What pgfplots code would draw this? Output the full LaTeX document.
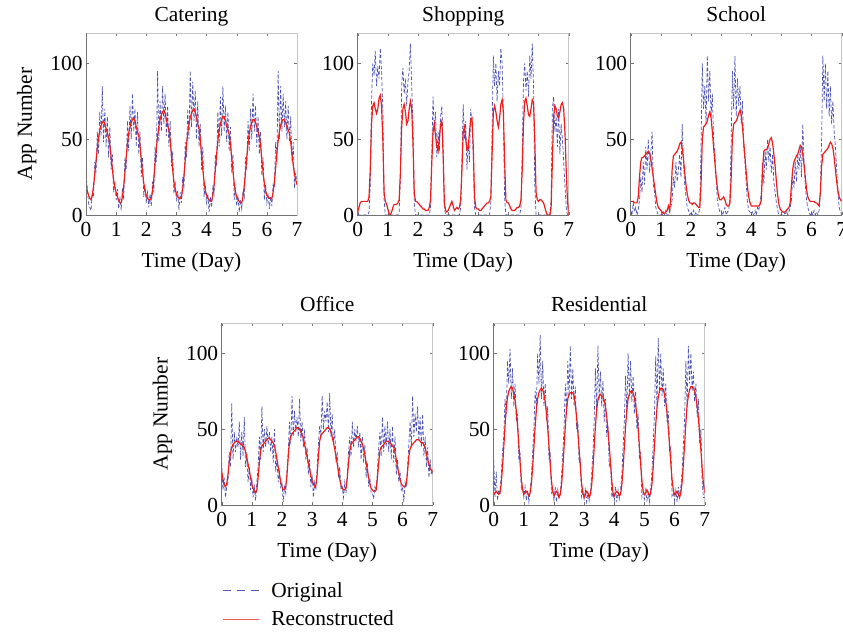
\documentclass[border=0pt]{standalone}
\usepackage{fontspec}
\setmainfont{Liberation Serif}
\usepackage{pgfplots}
\usepackage{pgfplotstable}
\pgfplotsset{compat=1.18}
\definecolor{origblue}{RGB}{55,62,172}
\definecolor{recred}{RGB}{240,28,28}
\definecolor{legred}{RGB}{240,90,80}

% ---------------- Catering ----------------
\pgfplotstableread[header=false,row sep=\\]{
27\\18\\8\\5\\3\\15\\12\\35\\28\\55\\40\\68\\52\\85\\48\\70\\45\\65\\38\\58\\30\\40\\15\\22\\
10\\17\\4\\12\\3\\18\\10\\38\\30\\62\\42\\72\\50\\80\\55\\70\\45\\68\\40\\55\\25\\38\\12\\20\\
8\\15\\5\\14\\6\\22\\15\\45\\35\\95\\48\\75\\55\\85\\60\\80\\52\\72\\45\\62\\32\\42\\14\\22\\
9\\16\\3\\15\\8\\25\\18\\48\\38\\70\\50\\95\\58\\88\\62\\82\\50\\75\\45\\60\\30\\45\\12\\20\\
8\\14\\2\\12\\5\\18\\14\\40\\32\\68\\45\\78\\52\\85\\55\\72\\48\\68\\42\\58\\28\\40\\10\\18\\
6\\13\\2\\10\\4\\16\\12\\38\\30\\62\\42\\70\\50\\80\\55\\72\\45\\65\\40\\55\\26\\38\\10\\20\\
8\\14\\4\\12\\6\\20\\18\\48\\35\\95\\50\\85\\55\\80\\58\\75\\50\\72\\48\\65\\35\\48\\18\\28\\
20\\
}\catO
\pgfplotstableread[header=false,row sep=\\]{
20\\16\\13\\11\\10\\13\\19\\27\\36\\44\\51\\56\\59\\61\\62\\60\\57\\54\\51\\46\\38\\30\\23\\18\\
15\\12\\10\\8\\8\\12\\19\\28\\38\\47\\54\\58\\61\\63\\64\\62\\58\\55\\52\\46\\37\\28\\21\\16\\
13\\11\\10\\10\\11\\16\\24\\34\\44\\52\\58\\63\\66\\68\\69\\67\\63\\59\\56\\50\\40\\30\\22\\17\\
14\\12\\11\\11\\12\\17\\26\\36\\46\\54\\60\\64\\67\\69\\70\\68\\64\\60\\57\\50\\40\\30\\22\\16\\
13\\11\\10\\9\\9\\13\\20\\30\\40\\49\\56\\60\\63\\65\\65\\62\\59\\56\\53\\47\\38\\29\\21\\15\\
12\\10\\9\\8\\8\\12\\19\\28\\38\\47\\54\\58\\61\\63\\63\\61\\58\\55\\52\\46\\37\\28\\21\\16\\
13\\12\\11\\11\\11\\15\\22\\31\\41\\49\\55\\59\\62\\63\\63\\61\\58\\56\\54\\48\\40\\33\\27\\23\\
20\\
}\catR

% ---------------- Shopping ----------------
\pgfplotstableread[header=false,row sep=\\]{
0\\0\\0\\0\\0\\0\\0\\0\\0\\2\\20\\75\\100\\92\\108\\85\\98\\90\\110\\95\\70\\10\\0\\0\\
0\\0\\0\\0\\0\\0\\0\\0\\0\\2\\25\\85\\97\\80\\90\\72\\88\\95\\113\\85\\60\\8\\0\\0\\
0\\0\\0\\0\\0\\0\\0\\0\\0\\0\\5\\40\\78\\55\\68\\38\\55\\42\\65\\72\\45\\5\\0\\0\\
0\\0\\0\\0\\0\\0\\0\\0\\0\\0\\5\\35\\73\\50\\62\\30\\48\\35\\70\\60\\40\\5\\0\\0\\
0\\0\\0\\0\\0\\0\\0\\0\\0\\0\\8\\55\\105\\85\\100\\75\\95\\85\\110\\100\\65\\10\\0\\0\\
0\\0\\0\\0\\0\\0\\0\\0\\0\\0\\5\\40\\88\\100\\82\\95\\78\\105\\90\\113\\85\\20\\0\\0\\
0\\0\\0\\0\\0\\0\\0\\0\\0\\0\\10\\70\\78\\55\\65\\45\\70\\40\\60\\50\\35\\20\\5\\0\\
0\\
}\shopO
\pgfplotstableread[header=false,row sep=\\]{
2\\5\\8\\9\\9\\9\\9\\9\\9\\12\\30\\60\\72\\74\\70\\67\\70\\77\\79\\72\\50\\15\\9\\7\\
4\\1\\0\\2\\5\\7\\7\\7\\8\\10\\28\\58\\70\\73\\68\\60\\62\\70\\75\\70\\48\\15\\9\\9\\
8\\7\\6\\5\\4\\4\\3\\3\\3\\5\\10\\35\\55\\60\\52\\45\\42\\50\\60\\62\\40\\8\\3\\2\\
3\\5\\7\\9\\6\\3\\4\\5\\4\\5\\10\\30\\55\\58\\50\\43\\44\\55\\63\\64\\45\\12\\5\\4\\
4\\3\\3\\4\\5\\6\\7\\8\\8\\9\\12\\40\\68\\72\\68\\62\\58\\64\\73\\76\\68\\35\\10\\8\\
8\\6\\4\\3\\3\\3\\4\\5\\5\\6\\10\\30\\60\\75\\77\\72\\66\\65\\70\\76\\74\\50\\15\\10\\
9\\10\\10\\9\\8\\5\\2\\0\\0\\0\\5\\35\\65\\72\\70\\65\\64\\68\\73\\74\\70\\55\\30\\10\\
0\\
}\shopR

% ---------------- School ----------------
\pgfplotstableread[header=false,row sep=\\]{
3\\0\\8\\2\\5\\0\\3\\10\\25\\15\\35\\20\\45\\30\\50\\28\\40\\55\\20\\15\\5\\2\\0\\0\\
0\\0\\2\\0\\3\\0\\0\\2\\5\\10\\25\\18\\35\\22\\30\\40\\25\\60\\35\\20\\12\\5\\3\\0\\
2\\0\\3\\0\\2\\0\\0\\5\\45\\100\\70\\85\\60\\105\\75\\95\\65\\80\\50\\40\\25\\10\\5\\2\\
3\\0\\2\\5\\0\\2\\3\\10\\50\\95\\70\\105\\65\\90\\72\\85\\60\\75\\45\\35\\20\\8\\3\\2\\
0\\2\\0\\3\\0\\5\\3\\8\\15\\35\\20\\42\\30\\50\\35\\45\\28\\40\\22\\15\\8\\3\\0\\0\\
0\\0\\2\\0\\3\\0\\2\\5\\10\\25\\18\\35\\22\\40\\30\\45\\25\\60\\35\\20\\10\\5\\2\\0\\
2\\0\\3\\0\\2\\0\\3\\15\\50\\105\\75\\100\\70\\95\\65\\85\\60\\75\\55\\45\\30\\15\\5\\2\\
0\\
}\schO
\pgfplotstableread[header=false,row sep=\\]{
9\\9\\9\\8\\8\\8\\12\\25\\35\\38\\38\\39\\40\\41\\42\\41\\37\\31\\25\\19\\13\\8\\5\\4\\
3\\2\\1\\1\\2\\3\\6\\3\\12\\30\\39\\40\\41\\42\\44\\47\\48\\44\\37\\28\\20\\14\\10\\8\\
8\\7\\8\\8\\7\\6\\5\\5\\20\\50\\58\\59\\60\\62\\66\\68\\64\\55\\45\\35\\25\\18\\12\\10\\
10\\11\\12\\10\\7\\6\\6\\8\\25\\52\\60\\61\\62\\64\\67\\69\\66\\58\\48\\38\\28\\18\\12\\8\\
6\\6\\6\\6\\6\\6\\6\\7\\10\\30\\42\\43\\43\\44\\47\\50\\51\\47\\40\\32\\22\\13\\7\\4\\
3\\2\\2\\2\\3\\4\\5\\8\\20\\30\\35\\37\\39\\40\\43\\46\\45\\40\\33\\25\\17\\12\\10\\9\\
9\\9\\9\\8\\8\\7\\6\\15\\32\\40\\41\\42\\43\\44\\46\\48\\47\\44\\38\\30\\22\\16\\12\\10\\
9\\
}\schR

% ---------------- Office ----------------
\pgfplotstableread[header=false,row sep=\\]{
28\\10\\18\\5\\12\\15\\35\\25\\67\\30\\48\\35\\45\\38\\55\\30\\48\\32\\58\\25\\35\\15\\25\\10\\
18\\5\\12\\3\\15\\25\\45\\30\\65\\35\\50\\38\\52\\40\\48\\35\\45\\28\\50\\22\\30\\15\\22\\12\\
15\\2\\12\\8\\22\\35\\55\\40\\72\\45\\62\\48\\58\\45\\70\\42\\55\\38\\50\\30\\38\\20\\30\\12\\
20\\5\\15\\10\\25\\40\\52\\45\\72\\50\\62\\55\\68\\48\\74\\45\\60\\40\\50\\28\\35\\18\\25\\10\\
12\\5\\15\\8\\20\\35\\45\\32\\55\\38\\50\\42\\52\\38\\48\\30\\45\\28\\40\\18\\28\\12\\18\\8\\
8\\4\\12\\10\\22\\38\\48\\32\\58\\35\\52\\38\\55\\35\\50\\30\\52\\28\\45\\20\\30\\15\\22\\10\\
12\\2\\15\\12\\25\\40\\55\\38\\72\\45\\60\\48\\65\\42\\58\\38\\60\\32\\45\\25\\38\\18\\30\\20\\
22\\
}\offO
\pgfplotstableread[header=false,row sep=\\]{
22\\17\\13\\12\\14\\20\\28\\34\\38\\40\\41\\42\\42\\42\\41\\40\\40\\39\\38\\35\\31\\27\\23\\18\\
14\\11\\9\\8\\10\\18\\28\\36\\39\\40\\41\\42\\43\\44\\44\\43\\42\\41\\39\\35\\30\\25\\20\\15\\
12\\10\\10\\12\\20\\32\\42\\45\\47\\48\\49\\50\\51\\51\\50\\48\\46\\44\\40\\36\\32\\28\\24\\19\\
16\\14\\12\\13\\20\\32\\42\\46\\47\\48\\49\\50\\51\\51\\50\\48\\45\\41\\37\\32\\27\\22\\17\\13\\
11\\10\\10\\11\\18\\28\\36\\40\\41\\42\\43\\44\\45\\45\\44\\42\\40\\37\\33\\28\\23\\18\\14\\11\\
10\\9\\9\\10\\18\\28\\36\\38\\39\\40\\41\\42\\42\\42\\41\\40\\39\\38\\35\\30\\25\\21\\17\\14\\
13\\12\\12\\14\\22\\32\\37\\39\\40\\41\\42\\43\\43\\43\\42\\41\\41\\40\\38\\34\\30\\27\\24\\23\\
22\\
}\offR

% ---------------- Residential ----------------
\pgfplotstableread[header=false,row sep=\\]{
30\\5\\22\\3\\10\\8\\20\\35\\45\\70\\60\\95\\80\\103\\70\\90\\65\\80\\55\\60\\30\\35\\10\\12\\
5\\12\\3\\10\\2\\10\\18\\35\\50\\75\\65\\100\\80\\112\\70\\95\\65\\80\\55\\65\\30\\35\\8\\10\\
3\\12\\2\\10\\5\\8\\18\\35\\50\\80\\62\\95\\72\\105\\70\\90\\65\\78\\50\\55\\28\\30\\5\\8\\
4\\10\\2\\8\\3\\8\\20\\35\\55\\90\\62\\105\\70\\88\\65\\82\\55\\70\\45\\52\\25\\30\\5\\8\\
3\\12\\2\\10\\4\\10\\20\\38\\55\\85\\60\\100\\72\\95\\68\\85\\60\\75\\50\\60\\30\\35\\5\\8\\
4\\10\\3\\8\\2\\10\\22\\40\\60\\98\\65\\110\\75\\100\\72\\90\\65\\80\\55\\62\\35\\38\\6\\8\\
3\\10\\2\\12\\5\\12\\22\\40\\58\\95\\65\\105\\80\\100\\75\\88\\68\\80\\58\\70\\40\\50\\15\\5\\
5\\
}\resO
\pgfplotstableread[header=false,row sep=\\]{
7\\8\\9\\8\\7\\8\\14\\25\\38\\52\\64\\71\\75\\77\\78\\77\\73\\69\\62\\52\\40\\28\\17\\10\\
7\\8\\9\\8\\6\\8\\14\\25\\38\\52\\63\\70\\74\\76\\77\\76\\73\\68\\61\\51\\39\\27\\16\\9\\
6\\8\\9\\8\\5\\7\\13\\24\\38\\52\\63\\70\\73\\74\\74\\74\\72\\66\\58\\48\\37\\25\\14\\8\\
5\\7\\9\\8\\5\\7\\13\\24\\38\\52\\63\\69\\72\\73\\72\\71\\69\\65\\58\\49\\39\\28\\16\\8\\
6\\8\\9\\8\\6\\7\\13\\24\\38\\52\\63\\70\\73\\75\\75\\74\\71\\66\\59\\50\\39\\27\\16\\9\\
7\\8\\10\\8\\6\\8\\14\\25\\39\\53\\64\\71\\75\\77\\77\\76\\73\\68\\61\\51\\40\\28\\17\\10\\
7\\8\\9\\7\\5\\8\\15\\27\\40\\54\\66\\72\\76\\78\\78\\77\\75\\71\\65\\57\\47\\36\\24\\14\\
8\\
}\resR

\newcommand{\fs}{\fontsize{21.5}{25}\selectfont}

\pgfplotsset{
  panel/.style={
    scale only axis, width=211bp, height=182bp,
    xmin=0, xmax=7, ymin=0, ymax=120,
    xtick={0,1,2,3,4,5,6,7}, ytick={0,50,100},
    tick align=inside, major tick length=3bp,
    tick style={black!55, line width=0.4pt},
    axis line style={black!22, line width=0.5pt},
    /pgf/number format/assume math mode=true,
    tick label style={font=\fs},
    label style={font=\fs},
    title style={font=\fs, at={(0.5,1)}, anchor=base, yshift=6bp},
    xlabel={Time (Day)},
    xticklabel style={yshift=-3.5bp},
    xlabel style={yshift=-9bp},
    ylabel style={yshift=7bp},
    after end axis/.code={\draw[black!55, line width=0.6pt] (rel axis cs:0,1) -- (rel axis cs:0,0) -- (rel axis cs:1,0);},
  },
  orig/.style={origblue, line width=0.7pt, dash pattern=on 3.5bp off 2bp, opacity=0.9, forget plot},
  rec/.style={recred, line width=1.2pt, forget plot},
}

\begin{document}
\begin{tikzpicture}
\useasboundingbox (0bp,0bp) rectangle (843bp,-633bp);

\begin{axis}[panel, at={(86bp,-215bp)}, anchor=south west, title={Catering}, ylabel={App Number}]
\addplot[orig] table[x expr=\coordindex/24, y index=0] {\catO};
\addplot[rec] table[x expr=\coordindex/24, y index=0] {\catR};
\end{axis}

\begin{axis}[panel, at={(357.7bp,-215bp)}, anchor=south west, title={Shopping}]
\addplot[orig] table[x expr=\coordindex/24, y index=0] {\shopO};
\addplot[rec] table[x expr=\coordindex/24, y index=0] {\shopR};
\end{axis}

\begin{axis}[panel, at={(630.7bp,-215bp)}, anchor=south west, title={School}]
\addplot[orig] table[x expr=\coordindex/24, y index=0] {\schO};
\addplot[rec] table[x expr=\coordindex/24, y index=0] {\schR};
\end{axis}

\begin{axis}[panel, at={(221.7bp,-505bp)}, anchor=south west, title={Office}, ylabel={App Number},
  legend style={at={(axis description cs:0,-0.415)}, anchor=north west, draw=none, fill=none,
    font=\fs, inner xsep=0pt, inner ysep=0pt, row sep=8bp,
    nodes={inner sep=2bp},
    /tikz/every odd column/.append style={column sep=10bp}},
  legend cell align=left]
\addlegendimage{legend image code/.code={\draw[draw=origblue!85, line width=0.9pt, dash pattern=on 8bp off 6bp] (0bp,0bp) -- (36bp,0bp);}}
\addlegendentry{Original}
\addlegendimage{legend image code/.code={\path[draw=legred, color=legred, line width=1.5pt] (0bp,0bp) -- (36bp,0bp);}}
\addlegendentry{Reconstructed}
\addplot[orig] table[x expr=\coordindex/24, y index=0] {\offO};
\addplot[rec] table[x expr=\coordindex/24, y index=0] {\offR};
\end{axis}

\begin{axis}[panel, at={(493.7bp,-505bp)}, anchor=south west, title={Residential}]
\addplot[orig] table[x expr=\coordindex/24, y index=0] {\resO};
\addplot[rec] table[x expr=\coordindex/24, y index=0] {\resR};
\end{axis}
\end{tikzpicture}
\end{document}
